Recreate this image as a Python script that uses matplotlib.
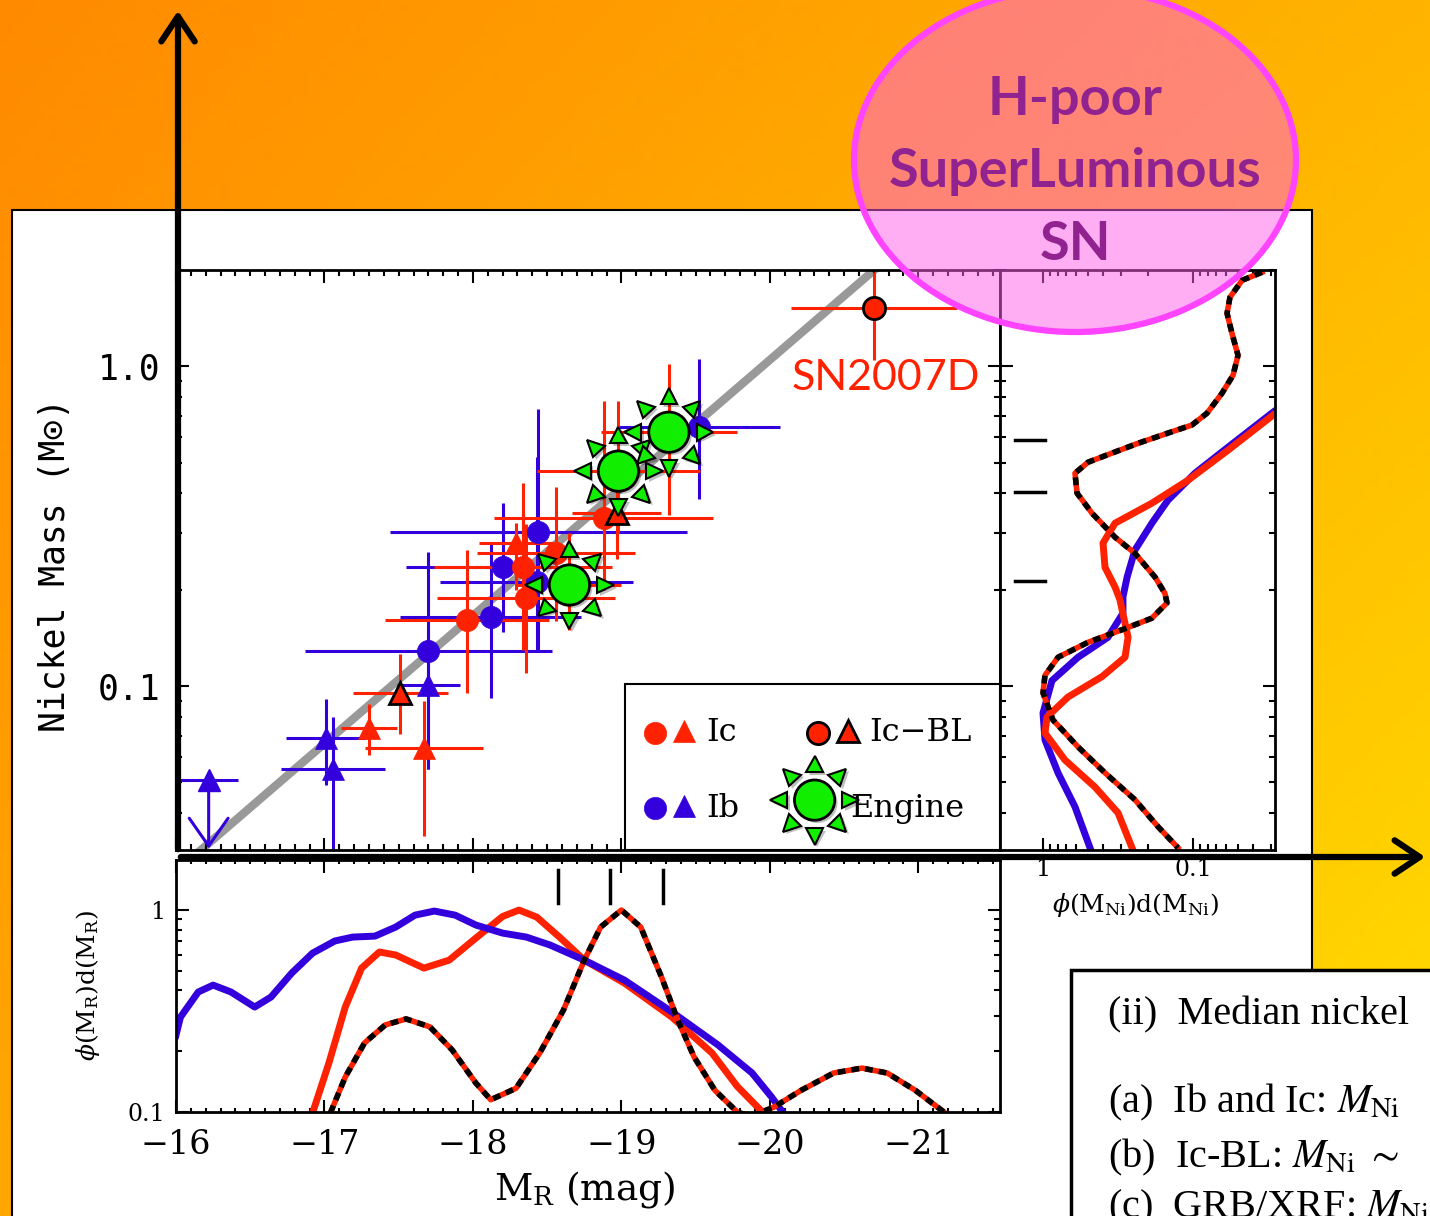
import numpy as np
import matplotlib.pyplot as plt
import matplotlib.patheffects as pe
from matplotlib.patches import Ellipse, Rectangle, FancyArrowPatch
from matplotlib.markers import MarkerStyle
from matplotlib.transforms import Affine2D, offset_copy
from matplotlib.ticker import LogLocator, NullFormatter, MultipleLocator

plt.rcParams['font.family'] = 'DejaVu Serif'
plt.rcParams['mathtext.fontset'] = 'dejavuserif'

RED = '#FF2200'
BLUE = '#3300DD'
GREEN = '#11EE00'
GRAY = '#999999'

# ---- main panel data: M_R (mag), M_Ni (Msun), errors ----
# Ib circles
ib_c_mr = [-17.70, -18.12, -18.20, -18.44, -18.43, -19.52]
ib_c_ni = [0.129, 0.164, 0.236, 0.303, 0.211, 0.645]
ib_c_dmr = [0.83, 0.61, 0.65, 1.00, 0.65, 0.55]
ib_c_lo = [0.055, 0.092, 0.148, 0.130, 0.13, 0.384]
ib_c_hi = [0.263, 0.28, 0.373, 0.734, 0.52, 1.05]
# Ib triangles
ib_t_mr = [-17.01, -17.06, -17.70]
ib_t_ni = [0.069, 0.055, 0.101]
ib_t_dmr = [0.27, 0.35, 0.21]
ib_t_lo = [0.049, 0.031, 0.055]
ib_t_hi = [0.091, 0.080, 0.15]
# Ib upper limit
ib_ul_mr = -16.22
ib_ul_ni = 0.051
ib_ul_dmr = 0.20
ib_ul_to = 0.031
# Ic circles
ic_c_mr = [-17.96, -18.34, -18.36, -18.56, -18.88]
ic_c_ni = [0.161, 0.236, 0.189, 0.261, 0.335]
ic_c_dmr = [0.55, 0.60, 0.60, 0.53, 0.74]
ic_c_lo = [0.095, 0.13, 0.11, 0.16, 0.20]
ic_c_hi = [0.266, 0.43, 0.32, 0.42, 0.78]
# Ic triangles
ic_t_mr = [-17.30, -17.67, -18.29]
ic_t_ni = [0.074, 0.064, 0.280]
ic_t_dmr = [0.19, 0.40, 0.25]
ic_t_lo = [0.061, 0.034, 0.20]
ic_t_hi = [0.088, 0.090, 0.323]
# Ic-BL circles
bl_c_mr = [-20.70, -18.65, -18.98, -19.32]
bl_c_ni = [1.517, 0.207, 0.470, 0.622]
bl_c_dmr = [0.56, 0.35, 0.55, 0.46]
bl_c_lo = [1.044, 0.15, 0.30, 0.342]
bl_c_hi = [1.97, 0.30, 0.78, 1.02]
# Ic-BL triangles
bl_t_mr = [-17.51, -18.97]
bl_t_ni = [0.095, 0.347]
bl_t_dmr = [0.32, 0.30]
bl_t_lo = [0.071, 0.25]
bl_t_hi = [0.126, 0.42]
# engine-driven events
eng_mr = [-18.65, -18.98, -19.32]
eng_ni = [0.207, 0.470, 0.622]
# gray relation: log M_Ni = slope * M_R + zp
line_slope = -0.4
line_zp = -7.98
line_mr = [-16.10, -20.72]

# ---- bottom panel: phi(M_R) ----
mr_ib = [-16.00, -16.03, -16.15, -16.25, -16.37, -16.53, -16.64, -16.78, -16.92, -17.07,
         -17.19, -17.34, -17.48, -17.61, -17.74, -17.88, -18.02, -18.20, -18.36, -18.52,
         -18.75, -19.02, -19.34, -19.65, -19.88, -20.01, -20.09]
phi_ib = [0.24, 0.295, 0.393, 0.425, 0.393, 0.331, 0.371, 0.488, 0.612, 0.703,
          0.735, 0.743, 0.824, 0.944, 0.989, 0.944, 0.843, 0.769, 0.735, 0.671,
          0.565, 0.450, 0.313, 0.215, 0.156, 0.119, 0.099]
mr_ic = [-16.92, -17.03, -17.14, -17.25, -17.37, -17.48, -17.67, -17.84, -18.02, -18.20,
         -18.31, -18.43, -18.59, -18.75, -19.02, -19.34, -19.61, -19.78, -19.95]
phi_ic = [0.099, 0.175, 0.331, 0.516, 0.620, 0.599, 0.516, 0.565, 0.727, 0.93,
          1.0, 0.923, 0.727, 0.565, 0.435, 0.295, 0.196, 0.134, 0.100]
mr_bl = [-17.04, -17.14, -17.27, -17.41, -17.55, -17.71, -17.86, -18.02, -18.12, -18.29,
         -18.45, -18.61, -18.75, -18.86, -19.00, -19.13, -19.27, -19.38, -19.49, -19.63,
         -19.78, -19.87, -20.03, -20.21, -20.43, -20.62, -20.79, -20.98, -21.18]
phi_bl = [0.099, 0.149, 0.220, 0.270, 0.289, 0.264, 0.203, 0.139, 0.115, 0.131,
          0.196, 0.320, 0.565, 0.824, 1.0, 0.824, 0.466, 0.285, 0.187, 0.128,
          0.100, 0.095, 0.106, 0.128, 0.156, 0.165, 0.156, 0.128, 0.099]
mr_marks = [-18.57, -18.92, -19.28]

# ---- right panel: phi(M_Ni) ----
phin_ib = [0.0293, 0.0585, 0.097, 0.147, 0.188, 0.244, 0.275, 0.293, 0.293, 0.369,
           0.584, 0.871, 1.0, 0.970, 0.794, 0.612, 0.486]
ni_ib = [0.718, 0.558, 0.463, 0.381, 0.323, 0.266, 0.219, 0.190, 0.169, 0.142,
         0.123, 0.104, 0.0823, 0.0678, 0.0535, 0.0419, 0.0312]
phin_ic = [0.0293, 0.0585, 0.108, 0.188, 0.331, 0.398, 0.386, 0.331, 0.307, 0.271,
           0.284, 0.404, 0.681, 0.940, 0.970, 0.714, 0.450, 0.316, 0.255]
ni_ic = [0.703, 0.546, 0.440, 0.373, 0.323, 0.280, 0.235, 0.204, 0.186, 0.142,
         0.123, 0.107, 0.0924, 0.080, 0.0713, 0.0587, 0.0483, 0.0401, 0.0312]
phin_bl = [0.0347, 0.0471, 0.0567, 0.0593, 0.055, 0.0501, 0.0541, 0.0641, 0.0807, 0.1016,
           0.147, 0.233, 0.347, 0.501, 0.612, 0.593, 0.471, 0.331, 0.244, 0.179,
           0.154, 0.149, 0.188, 0.297, 0.501, 0.794, 0.970, 1.0, 0.858, 0.584,
           0.386, 0.244, 0.171, 0.126]
ni_bl = [1.967, 1.857, 1.643, 1.464, 1.268, 1.082, 0.937, 0.823, 0.713, 0.655,
         0.618, 0.574, 0.535, 0.501, 0.463, 0.401, 0.347, 0.292, 0.260, 0.219,
         0.195, 0.182, 0.163, 0.150, 0.137, 0.123, 0.108, 0.0951, 0.0783, 0.0645,
         0.0535, 0.0441, 0.0363, 0.0312]
ni_marks = [0.587, 0.404, 0.213]

mr_ticks = [-16, -17, -18, -19, -20, -21]
mr_ticklabels = ['\u221216', '\u221217', '\u221218', '\u221219', '\u221220', '\u221221']

W, H = 1430, 1216
fig = plt.figure(figsize=(W / 100, H / 100), dpi=100)


def fx(px):
    return px / W


def fy(py):
    return 1 - py / H


# background
bg = fig.add_axes([0, 0, 1, 1], zorder=-10)
bg.set_xlim(0, W)
bg.set_ylim(H, 0)
bg.axis('off')
gx, gy = np.meshgrid(np.linspace(0, 1, 200), np.linspace(0, 1, 200))
gx, gy = gx[..., None], gy[..., None]
tl, tr = np.array([255, 138, 0]), np.array([255, 180, 0])
bl, br = np.array([255, 168, 0]), np.array([255, 222, 0])
img = (tl * (1 - gx) * (1 - gy) + tr * gx * (1 - gy) + bl * (1 - gx) * gy + br * gx * gy) / 255
bg.imshow(img, extent=[0, W, H, 0], aspect='auto')
bg.add_patch(Rectangle((12, 210), 1300, 1100, fc='white', ec='black', lw=1.5))
bg.add_patch(Rectangle((1071, 970), 420, 300, fc='white', ec='black', lw=2.5))
box_lines = ['(ii)  Median nickel', r'(a)  Ib and Ic: $M_{\rm Ni}$',
             r'(b)  Ic-BL: $M_{\rm Ni}$ $\sim$', r'(c)  GRB/XRF: $M_{\rm Ni}$']
for s, yy in zip(box_lines, [1015, 1102, 1157, 1208]):
    bg.text(1108, yy, s, fontfamily='Liberation Serif', math_fontfamily='stix',
            fontsize=29, va='center', ha='left')

L, R, R2, T, B, T3, B3 = 176, 1000, 1275, 270, 850, 860, 1112
ax = fig.add_axes([fx(L), fy(B), fx(R) - fx(L), fy(T) - fy(B)])
axr = fig.add_axes([fx(R), fy(B), fx(R2) - fx(R), fy(T) - fy(B)])
axb = fig.add_axes([fx(L), fy(B3), fx(R) - fx(L), fy(T3) - fy(B3)])


def style(a):
    a.tick_params(which='both', direction='in', top=True, right=True, width=1.5)
    a.tick_params(which='major', length=9)
    a.tick_params(which='minor', length=4.5)
    for s in a.spines.values():
        s.set_linewidth(2)


def log_minor(axis):
    axis.set_minor_locator(LogLocator(base=10, subs=np.arange(2, 10), numticks=30))
    axis.set_minor_formatter(NullFormatter())


for a in (ax, axr, axb):
    style(a)

# main panel
ax.set_yscale('log')
ax.set_xlim(-16, -21.55)
ax.set_ylim(0.0307, 2.0)
ax.xaxis.set_major_locator(MultipleLocator(1))
ax.xaxis.set_minor_locator(MultipleLocator(0.1))
ax.tick_params(labelbottom=False)
ax.set_yticks([0.1, 1.0], ['0.1', '1.0'], fontfamily='DejaVu Sans Mono', fontsize=25)
log_minor(ax.yaxis)
ax.tick_params(axis='y', which='major', pad=11)

lm = np.array(line_mr)
ax.plot(lm, 10 ** (line_slope * lm + line_zp), color=GRAY, lw=6, zorder=1.5,
        solid_capstyle='butt')


def ebar(mr, ni, dmr, lo, hi, color, marker, edge=None):
    ni, lo, hi = np.array(ni), np.array(lo), np.array(hi)
    ax.errorbar(mr, ni, xerr=dmr, yerr=[ni - lo, hi - ni], fmt='none', ecolor=color,
                elinewidth=2.2, capsize=0, zorder=2)
    ax.plot(mr, ni, ls='none', marker=marker, ms=16, mfc=color,
            mec=edge if edge else color, mew=2 if edge else 0.5, zorder=3)


ebar(ib_c_mr, ib_c_ni, ib_c_dmr, ib_c_lo, ib_c_hi, BLUE, 'o')
ebar(ib_t_mr, ib_t_ni, ib_t_dmr, ib_t_lo, ib_t_hi, BLUE, '^')
ax.errorbar([ib_ul_mr], [ib_ul_ni], xerr=ib_ul_dmr, fmt='none', ecolor=BLUE,
            elinewidth=2.2, capsize=0, zorder=2)
ax.plot([ib_ul_mr], [ib_ul_ni], ls='none', marker='^', ms=16, color=BLUE, zorder=3)
ax.annotate('', xy=(ib_ul_mr, ib_ul_to), xytext=(ib_ul_mr, ib_ul_ni),
            arrowprops=dict(arrowstyle='->,head_length=0.5,head_width=0.35',
                            color=BLUE, lw=2.2, mutation_scale=40, shrinkA=0, shrinkB=0))
ebar(ic_c_mr, ic_c_ni, ic_c_dmr, ic_c_lo, ic_c_hi, RED, 'o')
ebar(ic_t_mr, ic_t_ni, ic_t_dmr, ic_t_lo, ic_t_hi, RED, '^')
ebar(bl_c_mr, bl_c_ni, bl_c_dmr, bl_c_lo, bl_c_hi, RED, 'o', edge='black')
ebar(bl_t_mr, bl_t_ni, bl_t_dmr, bl_t_lo, bl_t_hi, RED, '^', edge='black')

shadow = [pe.SimplePatchShadow(offset=(2, -2), shadow_rgbFace='black', alpha=0.25),
          pe.Normal()]


def draw_engine(a, x, y, trans, zo=6):
    for ang in range(0, 360, 45):
        t = offset_copy(trans, fig=fig, x=26 * np.cos(np.radians(ang)),
                        y=26 * np.sin(np.radians(ang)), units='points')
        m = MarkerStyle('^', transform=Affine2D().rotate_deg(ang - 90))
        a.plot(x, y, ls='none', marker=m, ms=12, mfc=GREEN, mec='black', mew=1.5,
               transform=t, zorder=zo, clip_on=False, path_effects=shadow)
    a.plot(x, y, ls='none', marker='o', ms=29, mfc=GREEN, mec='black', mew=2,
           transform=trans, zorder=zo, clip_on=False, path_effects=shadow)


for x, y in zip(eng_mr, eng_ni):
    draw_engine(ax, [x], [y], ax.transData)

ax.text(bl_c_mr[0] - 0.08, 0.92, 'SN2007D', color=RED, fontfamily='Lato',
        fontsize=31, ha='center', va='center', zorder=5)

# legend box
ax.add_patch(Rectangle((0.545, 0), 0.455, 0.286, transform=ax.transAxes,
                       fc='white', ec='black', lw=1.5, zorder=4))
leg = [(0.581, 0.202, RED, None, 'Ic'), (0.779, 0.202, RED, 'black', 'Ic\u2212BL'),
       (0.581, 0.072, BLUE, None, 'Ib')]
for x, y, c, e, lab in leg:
    ax.plot([x], [y], ls='none', marker='o', ms=16, mfc=c, mec=e if e else c,
            mew=2 if e else 0.5, transform=ax.transAxes, zorder=5)
    ax.plot([x + 0.036], [y + 0.004], ls='none', marker='^', ms=16, mfc=c,
            mec=e if e else c, mew=2 if e else 0.5, transform=ax.transAxes, zorder=5)
    ax.text(x + 0.062, y, lab, transform=ax.transAxes, fontsize=23, va='center',
            ha='left', zorder=5)
draw_engine(ax, [0.775], [0.086], ax.transAxes)
ax.text(0.818, 0.072, 'Engine', transform=ax.transAxes, fontsize=23, va='center',
        ha='left', zorder=7)

# right panel
axr.set_xscale('log')
axr.set_yscale('log')
axr.set_xlim(1.935, 0.0284)
axr.set_ylim(0.0307, 2.0)
axr.set_xticks([1, 0.1], ['1', '0.1'], fontsize=17)
log_minor(axr.xaxis)
axr.set_yticks([0.1, 1.0], ['', ''])
log_minor(axr.yaxis)
axr.tick_params(axis='x', which='major', pad=6)
axr.plot(phin_ib, ni_ib, color=BLUE, lw=5, solid_joinstyle='round')
axr.plot(phin_ic, ni_ic, color=RED, lw=5, solid_joinstyle='round')
axr.plot(phin_bl, ni_bl, color=RED, lw=4, solid_joinstyle='round')
axr.plot(phin_bl, ni_bl, color='black', lw=4, ls=(0, (1.4, 1.1)))
for v in ni_marks:
    axr.axhline(v, xmin=0.055, xmax=0.164, color='black', lw=2.5)

# bottom panel
axb.set_yscale('log')
axb.set_xlim(-16, -21.55)
axb.set_ylim(0.1, 1.77)
axb.set_xticks(mr_ticks, mr_ticklabels, fontsize=24)
axb.xaxis.set_minor_locator(MultipleLocator(0.1))
axb.tick_params(axis='x', which='minor', length=3)
axb.set_yticks([0.1, 1], ['0.1', '1'], fontsize=17)
log_minor(axb.yaxis)
axb.tick_params(axis='x', which='major', pad=12)
axb.tick_params(axis='y', which='major', pad=8)
axb.plot(mr_ic, phi_ic, color=RED, lw=5, solid_joinstyle='round')
axb.plot(mr_ib, phi_ib, color=BLUE, lw=5, solid_joinstyle='round')
axb.plot(mr_bl, phi_bl, color=RED, lw=4, solid_joinstyle='round')
axb.plot(mr_bl, phi_bl, color='black', lw=4, ls=(0, (1.4, 1.1)))
for v in mr_marks:
    axb.axvline(v, ymin=0.83, ymax=0.96, color='black', lw=2.5)

# axis titles
fig.text(fx(55), fy(565), 'Nickel Mass (M\u2299)', rotation=90,
         fontfamily='DejaVu Sans Mono', fontsize=25, ha='center', va='center')
fig.text(fx(88), fy(985), r'$\phi$(M$_{\rm R}$)d(M$_{\rm R}$)', rotation=90,
         fontsize=18, ha='center', va='center')
fig.text(fx(585), fy(1190), r'M$_{\rm R}$ (mag)', fontsize=27, ha='center', va='center')
fig.text(fx(1135), fy(905), r'$\phi$(M$_{\rm Ni}$)d(M$_{\rm Ni}$)', fontsize=18,
         ha='center', va='center')

# big arrows
for p0, p1 in [((178, 852), (178, 8)), ((178, 857), (1428, 857))]:
    fig.add_artist(FancyArrowPatch((fx(p0[0]), fy(p0[1])), (fx(p1[0]), fy(p1[1])),
                                   transform=fig.transFigure,
                                   arrowstyle='->,head_length=0.45,head_width=0.3',
                                   mutation_scale=40, lw=4.5, color='black', zorder=8))

# H-poor SLSN bubble
fig.add_artist(Ellipse((fx(1075), fy(160)), 442 / W, 344 / H, transform=fig.transFigure,
                       fc=(1, 0.37, 0.92, 0.5), ec='#FF44FF', lw=4.5, zorder=20))
for s, yy in zip(['H-poor', 'SuperLuminous', 'SN'], [100, 172, 245]):
    fig.text(fx(1075), fy(yy), s, fontfamily='Lato', fontweight='bold', fontsize=39,
             color='#912390', ha='center', va='center', zorder=21)

fig.savefig('out.png', dpi=100)
